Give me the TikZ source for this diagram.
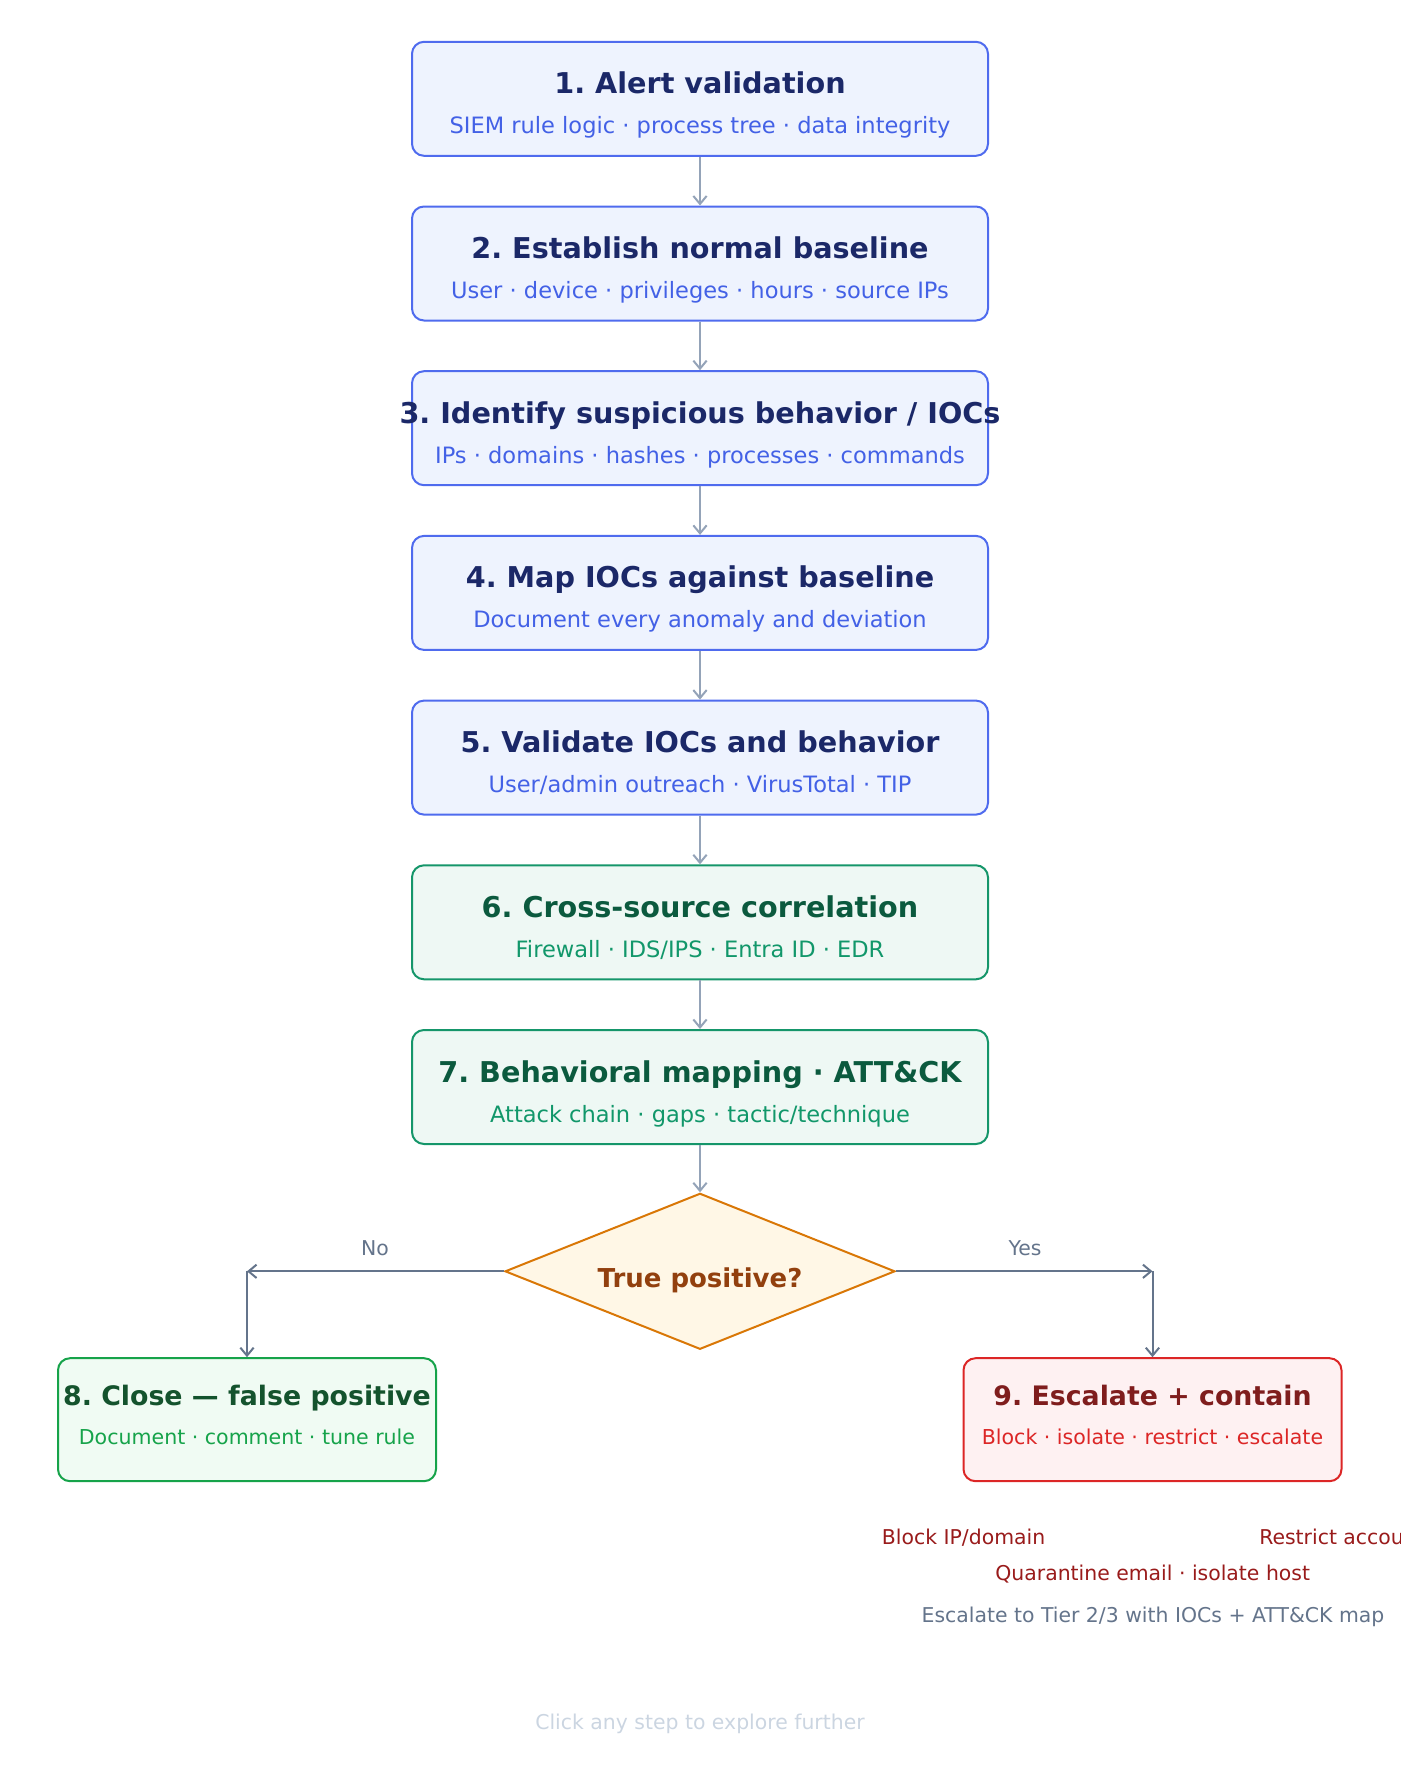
\documentclass[tikz,border=0pt]{standalone}
\usepackage{fontspec}
\setmainfont{DejaVu Sans}
\usetikzlibrary{arrows.meta,shapes.geometric}
\frenchspacing
\definecolor{blueB}{HTML}{4F6BEE}
\definecolor{blueF}{HTML}{EEF3FE}
\definecolor{blueT}{HTML}{1B2868}
\definecolor{blueS}{HTML}{4361E6}
\definecolor{emB}{HTML}{15966A}
\definecolor{emF}{HTML}{EEF8F4}
\definecolor{emT}{HTML}{0B5A3E}
\definecolor{emS}{HTML}{11976A}
\definecolor{grB}{HTML}{16A34A}
\definecolor{grF}{HTML}{F0FBF3}
\definecolor{grT}{HTML}{14532D}
\definecolor{grS}{HTML}{16A34A}
\definecolor{rdB}{HTML}{DC2626}
\definecolor{rdF}{HTML}{FEF1F2}
\definecolor{rdT}{HTML}{7F1D1D}
\definecolor{rdS}{HTML}{DC2626}
\definecolor{amB}{HTML}{D97706}
\definecolor{amF}{HTML}{FFF7E6}
\definecolor{amT}{HTML}{92400E}
\definecolor{arrV}{HTML}{94A3B8}
\definecolor{arrB}{HTML}{64748B}
\definecolor{redD}{HTML}{991B1B}
\definecolor{faint}{HTML}{CBD5E1}
\tikzset{
  box/.style={rectangle, rounded corners=9pt, line width=1.5pt, inner sep=0pt},
  bigbox/.style={box, minimum width=432pt, minimum height=85.5pt},
  smallbox/.style={box, minimum width=283.5pt, minimum height=92.25pt},
  bluebox/.style={bigbox, draw=blueB, fill=blueF},
  embox/.style={bigbox, draw=emB, fill=emF},
  grbox/.style={smallbox, draw=grB, fill=grF},
  rdbox/.style={smallbox, draw=rdB, fill=rdF},
  ttl/.style={anchor=base, inner sep=0pt, font=\fontsize{21.5pt}{25pt}\selectfont\bfseries},
  sub/.style={anchor=base, inner sep=0pt, font=\fontsize{16.9pt}{20pt}\selectfont},
  sttl/.style={anchor=base, inner sep=0pt, font=\fontsize{20.1pt}{24pt}\selectfont\bfseries},
  ssub/.style={anchor=base, inner sep=0pt, font=\fontsize{15.4pt}{18pt}\selectfont},
  lbl/.style={anchor=base, inner sep=0pt, font=\fontsize{15.3pt}{18pt}\selectfont},
  varrow/.style={draw=arrV, line width=1.5pt, -{Straight Barb[length=6pt,width=10pt,line width=1.5pt]}},
  barrow/.style={draw=arrB, line width=1.5pt, -{Straight Barb[length=6pt,width=10pt,line width=1.5pt]}},
}
\begin{document}
\begin{tikzpicture}[x=0.75pt,y=-0.75pt]
\useasboundingbox (0,0) rectangle (1400,1771);
\clip (0,0) rectangle (1400,1771);
% main column
\node[bluebox] (b1) at (700,98.8) {};
\node[ttl, text=blueT] (t1) at (700,93.8) {1. Alert validation};
\node[sub, text=blueS] (s1) at (700,133.8) {SIEM rule logic · process tree · data integrity};

\node[bluebox] (b2) at (700,263.5) {};
\node[ttl, text=blueT] (t2) at (700,258.5) {2. Establish normal baseline};
\node[sub, text=blueS] (s2) at (700,298.5) {User · device · privileges · hours · source IPs};

\node[bluebox] (b3) at (700,428.2) {};
\node[ttl, text=blueT] (t3) at (700,423.2) {3. Identify suspicious behavior / IOCs};
\node[sub, text=blueS] (s3) at (700,463.2) {IPs · domains · hashes · processes · commands};

\node[bluebox] (b4) at (700,592.9) {};
\node[ttl, text=blueT] (t4) at (700,587.9) {4. Map IOCs against baseline};
\node[sub, text=blueS] (s4) at (700,627.9) {Document every anomaly and deviation};

\node[bluebox] (b5) at (700,757.6) {};
\node[ttl, text=blueT] (t5) at (700,752.6) {5. Validate IOCs and behavior};
\node[sub, text=blueS] (s5) at (700,792.6) {User/admin outreach · VirusTotal · TIP};

\node[embox] (b6) at (700,922.3) {};
\node[ttl, text=emT] (t6) at (700,917.3) {6. Cross-source correlation};
\node[sub, text=emS] (s6) at (700,957.3) {Firewall · IDS/IPS · Entra ID · EDR};

\node[embox] (b7) at (700,1087.0) {};
\node[ttl, text=emT] (t7) at (700,1082.0) {7. Behavioral mapping · ATT\&CK};
\node[sub, text=emS] (s7) at (700,1122.0) {Attack chain · gaps · tactic/technique};

% decision
\node[diamond, aspect=2.5, inner sep=0pt, minimum width=292.5pt, minimum height=117pt,
      draw=amB, fill=amF, line width=1.5pt] (dec) at (700,1271.3) {};
\node[anchor=base, inner sep=0pt, font=\fontsize{19.5pt}{23pt}\selectfont\bfseries, text=amT] (dt) at (700,1287) {True positive?};

% outcome boxes
\node[grbox] (b8) at (247,1419.7) {};
\node[sttl, text=grT] (t8) at (247,1405) {8. Close — false positive};
\node[ssub, text=grS] (s8) at (247,1444.7) {Document · comment · tune rule};

\node[rdbox] (b9) at (1152.5,1419.7) {};
\node[sttl, text=rdT] (t9) at (1152.5,1405) {9. Escalate + contain};
\node[ssub, text=rdS] (s9) at (1152.5,1444.7) {Block · isolate · restrict · escalate};

% connectors
\draw[varrow] (b1.south) -- (b2.north);
\draw[varrow] (b2.south) -- (b3.north);
\draw[varrow] (b3.south) -- (b4.north);
\draw[varrow] (b4.south) -- (b5.north);
\draw[varrow] (b5.south) -- (b6.north);
\draw[varrow] (b6.south) -- (b7.north);
\draw[varrow] (b7.south) -- (dec.north);

\coordinate (cl) at (247,1271.3);
\coordinate (cr) at (1152.5,1271.3);
\draw[barrow] (dec.west) -- (cl);
\draw[barrow] (cl) -- (b8.north);
\draw[barrow] (dec.east) -- (cr);
\draw[barrow] (cr) -- (b9.north);
\node[lbl, text=arrB] (no) at (375,1255) {No};
\node[lbl, text=arrB] (yes) at (1025,1255) {Yes};

% containment notes
\node[lbl, text=redD] (n1) at (963.6,1544) {Block IP/domain};
\node[lbl, text=redD, anchor=base west] (n2) at (1259,1544) {Restrict account};
\node[lbl, text=redD] (n3) at (1152.7,1580) {Quarantine email · isolate host};
\node[lbl, text=arrB] (n4) at (1153,1622) {Escalate to Tier 2/3 with IOCs + ATT\&CK map};
\node[lbl, text=faint] (n5) at (700,1729) {Click any step to explore further};
\end{tikzpicture}
\end{document}
